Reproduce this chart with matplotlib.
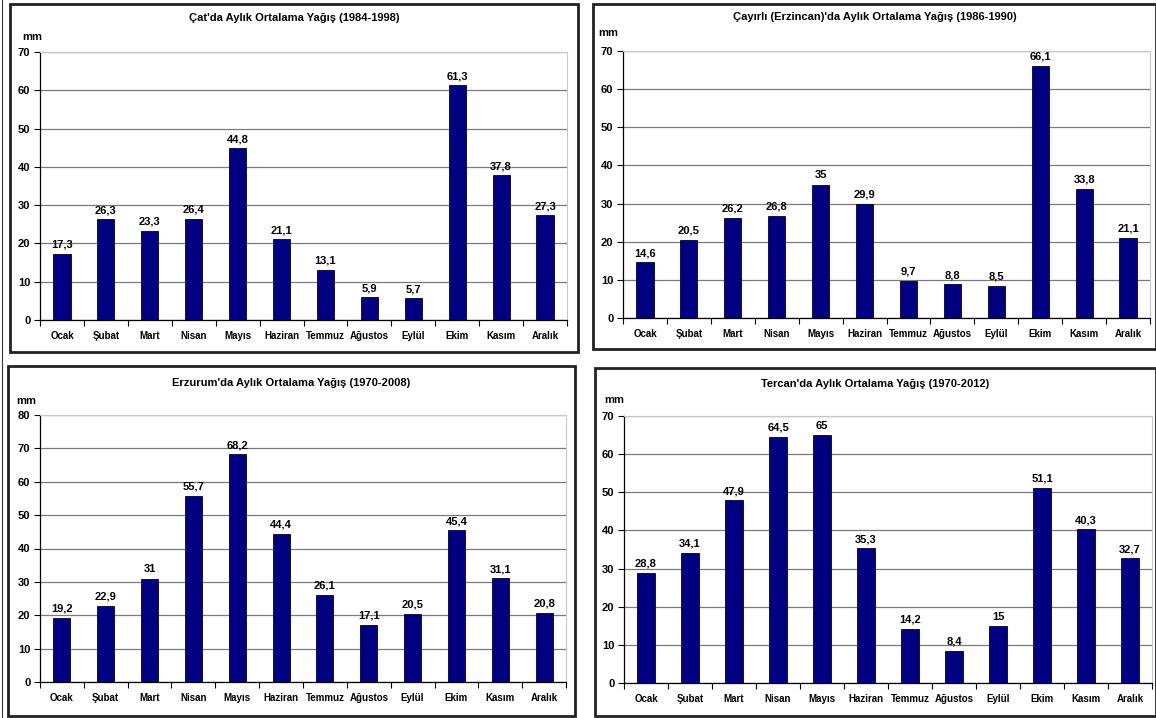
import numpy as np
import matplotlib.pyplot as plt
from matplotlib.patches import Rectangle
from matplotlib.lines import Line2D

plt.rcParams['font.family'] = ['Liberation Sans', 'DejaVu Sans']
plt.rcParams['font.weight'] = 'bold'

aylar = ["Ocak", "Şubat", "Mart", "Nisan", "Mayıs", "Haziran", "Temmuz",
         "Ağustos", "Eylül", "Ekim", "Kasım", "Aralık"]

cat = [17.3, 26.3, 23.3, 26.4, 44.8, 21.1, 13.1, 5.9, 5.7, 61.3, 37.8, 27.3]
cayirli = [14.6, 20.5, 26.2, 26.8, 35, 29.9, 9.7, 8.8, 8.5, 66.1, 33.8, 21.1]
erzurum = [19.2, 22.9, 31, 55.7, 68.2, 44.4, 26.1, 17.1, 20.5, 45.4, 31.1, 20.8]
tercan = [28.8, 34.1, 47.9, 64.5, 65, 35.3, 14.2, 8.4, 15, 51.1, 40.3, 32.7]

titles = ["Çat'da Aylık Ortalama Yağış (1984-1998)",
          "Çayırlı (Erzincan)'da Aylık Ortalama Yağış (1986-1990)",
          "Erzurum'da Aylık Ortalama Yağış (1970-2008)",
          "Tercan'da Aylık Ortalama Yağış (1970-2012)"]
ymaxes = [70, 70, 80, 70]

W, H = 1156, 718
fig = plt.figure(figsize=(W / 100, H / 100), dpi=100)

def fx(x):
    return x / W

def fy(y):
    return 1 - y / H

# pixel layout: box, axes, title y, mm position
panels = [
    dict(box=(10, 4, 578, 352), ax=(40, 52, 567, 320), ty=18, mm=(22, 37)),
    dict(box=(593, 4, 1156, 349), ax=(623, 51, 1150, 318), ty=17, mm=(598, 33)),
    dict(box=(8, 366, 575, 716), ax=(40, 415, 566, 682), ty=383, mm=(16, 401)),
    dict(box=(595, 368, 1156, 716), ax=(624, 416, 1152, 683), ty=384, mm=(604, 400)),
]
datasets = [cat, cayirli, erzurum, tercan]

def fmt(v):
    s = ("%.1f" % v).rstrip("0").rstrip(".")
    return s.replace(".", ",")

# thin page edge on the left
fig.lines.append(Line2D([fx(2), fx(2)], [0, 1], transform=fig.transFigure,
                        color="#333333", lw=0.8))

for p, vals, title, ymax in zip(panels, datasets, titles, ymaxes):
    x0, y0, x1, y1 = p["box"]
    fig.patches.append(Rectangle((fx(x0), fy(y1)), fx(x1 - x0), (y1 - y0) / H,
                                 transform=fig.transFigure, fill=False,
                                 lw=2, edgecolor="#222222"))
    a0, b0, a1, b1 = p["ax"]
    ax = fig.add_axes([fx(a0), fy(b1), fx(a1 - a0), (b1 - b0) / H])
    xs = np.arange(len(aylar))
    ax.bar(xs, vals, width=0.39, color="#000080", edgecolor="#000033", lw=0.6, zorder=3)
    for xi, v in zip(xs, vals):
        ax.annotate(fmt(v), (xi, v), xytext=(0, 3), textcoords="offset points",
                    ha="center", va="bottom", fontsize=8, fontweight="bold")
    ax.set_xlim(-0.5, 11.5)
    ax.set_ylim(0, ymax)
    ax.set_yticks(np.arange(0, ymax + 1, 10))
    ax.yaxis.grid(True, color="#7a7a7a", lw=0.9)
    ax.set_axisbelow(True)
    ax.set_xticks(xs)
    ax.set_xticklabels(aylar, fontsize=7, fontweight="bold")
    ax.set_xticks(np.arange(-0.5, 12, 1), minor=True)
    ax.tick_params(axis="x", which="major", length=0, pad=8)
    ax.tick_params(axis="x", which="minor", length=4, direction="out", width=0.8)
    ax.tick_params(axis="y", length=4, width=0.8, labelsize=8, pad=3)
    for lab in ax.get_yticklabels():
        lab.set_fontweight("bold")
    ax.spines["top"].set_color("#c8c8c8")
    ax.spines["right"].set_color("#c8c8c8")
    ax.spines["left"].set_linewidth(0.9)
    ax.spines["bottom"].set_linewidth(0.9)
    fig.text(fx((x0 + x1) / 2), fy(p["ty"]), title, ha="center", va="center",
             fontsize=8, fontweight="bold")
    fig.text(fx(p["mm"][0]), fy(p["mm"][1]), "mm", ha="left", va="center",
             fontsize=8, fontweight="bold")

plt.savefig("out.png", dpi=100)
